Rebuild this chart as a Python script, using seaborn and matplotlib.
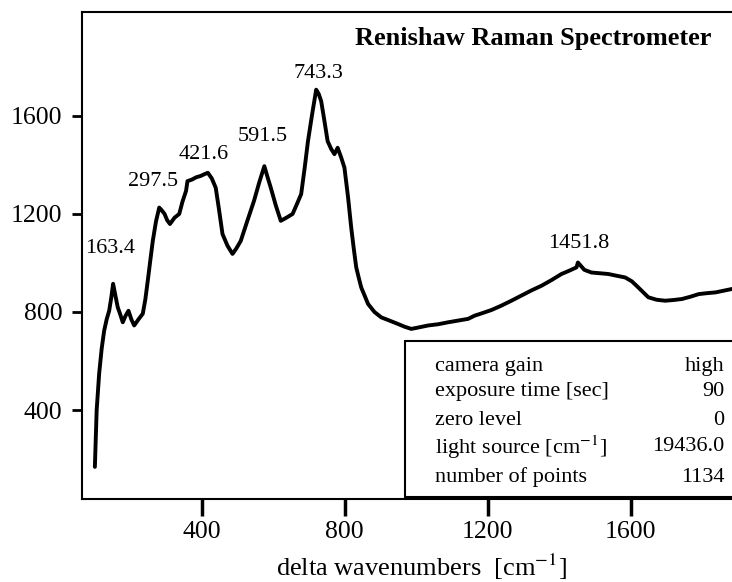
import pandas as pd
import seaborn as sns
import matplotlib.pyplot as plt

# Espectro (desplazamiento Raman, intensidad)
shift = [101, 106, 113, 120, 127, 134, 141, 147, 152, 158, 165, 172, 179, 187, 195, 203,
         211, 223, 235, 242, 249, 256, 263, 272, 281, 288, 296, 303, 311, 324, 337, 346,
         356, 360, 372, 385, 397, 407, 417, 428, 439, 448, 458, 472, 486, 497, 509, 527,
         546, 561, 575, 584, 593, 607, 621, 637, 654, 666, 678, 688, 697, 709, 720, 727,
         734, 743, 752, 762, 771, 780, 790, 799, 809, 818, 825, 832, 839, 846, 856, 865,
         883, 902, 925, 949, 967, 986, 1010, 1033, 1061, 1089, 1117, 1145, 1163, 1182,
         1210, 1238, 1266, 1294, 1322, 1350, 1378, 1406, 1427, 1448, 1452, 1470, 1490,
         1514, 1537, 1560, 1584, 1603, 1621, 1635, 1649, 1672, 1696, 1720, 1743, 1766,
         1790, 1814, 1837, 1860, 1883]
counts = [168, 399, 549, 650, 724, 770, 805, 860, 915, 870, 819, 790, 758, 785, 805, 770,
          745, 770, 793, 850, 928, 1010, 1090, 1170, 1226, 1215, 1200, 1175, 1159, 1185, 1200, 1250,
          1294, 1334, 1340, 1350, 1355, 1362, 1368, 1345, 1307, 1220, 1118, 1070, 1037, 1060, 1090, 1170,
          1253, 1330, 1395, 1350, 1307, 1235, 1172, 1185, 1200, 1240, 1281, 1390, 1497, 1610, 1707, 1690,
          1660, 1580, 1497, 1465, 1444, 1470, 1430, 1389, 1270, 1144, 1060, 982, 940, 900, 865, 833,
          800, 778, 765, 751, 740, 731, 738, 745, 750, 758, 765, 772, 785, 794,
          808, 826, 846, 867, 888, 907, 930, 955, 968, 982, 1002, 972, 961,
          958, 955, 948, 941, 925, 900, 880, 860, 850, 846, 849, 853, 862,
          873, 877, 880, 887, 894]

peak_labels = ["163.4", "297.5", "421.6", "591.5", "743.3", "1451.8"]
peak_x = [144, 263, 404, 571, 725, 1454]
peak_y = [1058, 1334, 1444, 1517, 1774, 1078]

info_names = ["camera gain", "exposure time [sec]", "zero level",
              "light source [cm$^{-1}$]", "number of points"]
info_values = ["high", "90", "0", "19436.0", "1134"]

df = pd.DataFrame({"shift": shift, "counts": counts})

sns.set_theme(style="ticks")
plt.rcParams["font.family"] = ["Liberation Serif", "DejaVu Serif"]
plt.rcParams["mathtext.fontset"] = "stix"
plt.rcParams["text.color"] = "black"
plt.rcParams["axes.labelcolor"] = "black"

fig = plt.figure(figsize=(7.32, 5.82), dpi=100)
ax = fig.add_axes([82 / 732, 83 / 582, 650 / 732, 487 / 582])

sns.lineplot(data=df, x="shift", y="counts", color="black", linewidth=2.8, ax=ax)

ax.set_xlim(65, 1883)
ax.set_ylim(37, 2024)
ax.set_xticks([400, 800, 1200, 1600])
ax.set_yticks([400, 800, 1200, 1600])
ax.set_xlabel("")
ax.set_ylabel("")
ax.spines["right"].set_visible(False)
for s in ["left", "bottom", "top"]:
    ax.spines[s].set_linewidth(1.5)
    ax.spines[s].set_color("black")
ax.tick_params(axis="y", length=7, width=2, pad=7, labelsize=18.5, colors="black")
ax.tick_params(axis="x", length=12, width=2.5, pad=4, labelsize=18.5, colors="black")

# etiquetas de los picos
for lab, px, py in zip(peak_labels, peak_x, peak_y):
    ax.text(px, py, lab, ha="center", va="center", fontsize=16, color="black")

fig.text(533 / 732, 1 - 38 / 582, "Renishaw Raman Spectrometer",
         ha="center", va="center", fontsize=19, fontweight="bold", color="black")
fig.text(421 / 732, 1 - 567 / 582, "delta wavenumbers  [cm$^{-1}$]",
         ha="center", va="center", fontsize=19, color="black")

# cuadro de parámetros
box = plt.Rectangle((0.497, 0.004), 0.6, 0.32, transform=ax.transAxes,
                    facecolor="white", edgecolor="black", linewidth=1.5,
                    clip_on=False, zorder=3)
ax.add_patch(box)
rows_y = [0.272, 0.220, 0.162, 0.107, 0.045]
for name, val, ry in zip(info_names, info_values, rows_y):
    ax.text(0.543, ry, name, transform=ax.transAxes, ha="left", va="center",
            fontsize=16, zorder=4, color="black")
    ax.text(0.988, ry, val, transform=ax.transAxes, ha="right", va="center",
            fontsize=16, zorder=4, color="black")

fig.savefig("out.png", dpi=100)
